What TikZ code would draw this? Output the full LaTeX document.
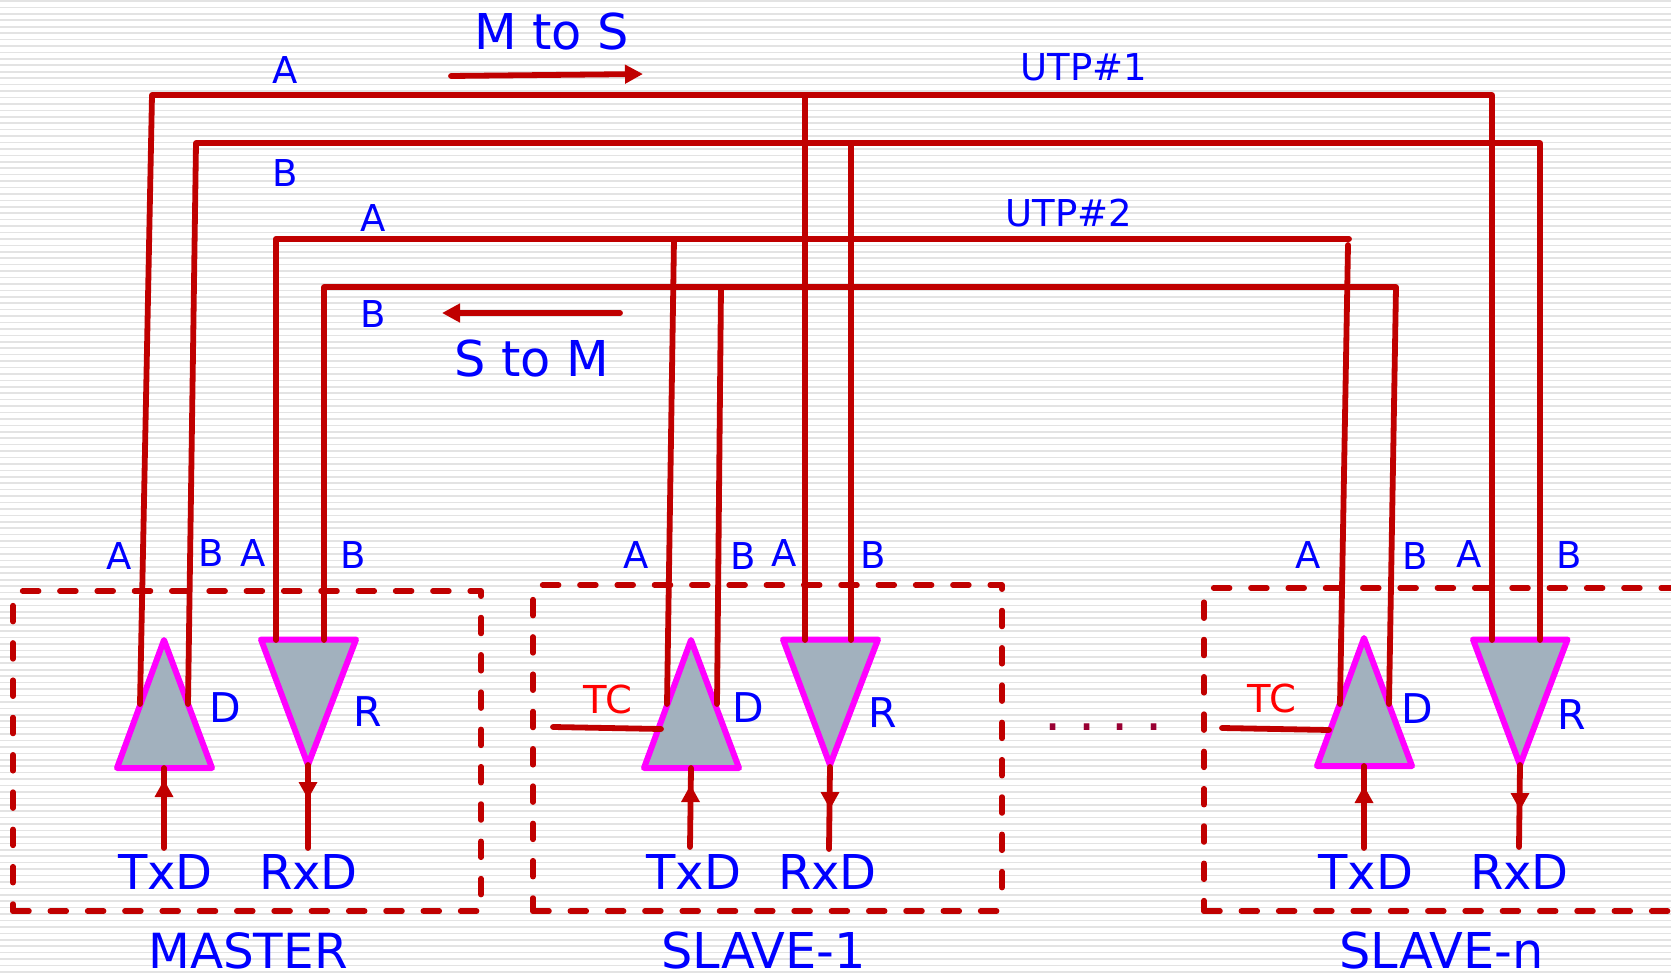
\documentclass[tikz,border=0pt]{standalone}
\usepackage{fontspec}
\setmainfont{DejaVu Sans}
\definecolor{wire}{HTML}{C00000}
\definecolor{lab}{HTML}{0000FF}
\definecolor{mag}{HTML}{FF00FF}
\definecolor{tri}{HTML}{A2B1BE}
\definecolor{stripe}{HTML}{E3E3E3}
\definecolor{dotc}{HTML}{990033}
\usetikzlibrary{arrows.meta}
\tikzset{
  wireline/.style={draw=wire,line width=5.8pt,line cap=round,line join=round},
  dashbox/.style={draw=wire,line width=5.5pt,line cap=round,line join=round,dash pattern=on 16pt off 21.3pt},
  gate/.style={draw=mag,fill=tri,line width=6pt,line join=round},
  sigarrow/.style={wireline,-{Triangle[length=18pt,width=18pt]}},
  headfill/.style={fill=wire,draw=none},
  txt/.style={text=lab,inner sep=0pt,font=\fontsize{37}{40}\selectfont},
  gatelab/.style={text=lab,inner sep=0pt,font=\fontsize{41}{44}\selectfont},
  sig/.style={text=lab,inner sep=0pt,font=\fontsize{48}{52}\selectfont},
  big/.style={text=lab,inner sep=0pt,font=\fontsize{49.4}{54}\selectfont},
  mastertxt/.style={text=lab,inner sep=0pt,font=\fontsize{48.4}{54}\selectfont},
  tclab/.style={text=red,inner sep=0pt,font=\fontsize{38.5}{40}\selectfont},
  dotlab/.style={text=dotc,inner sep=0pt,font=\fontsize{54}{58}\selectfont}
}
\begin{document}
\begin{tikzpicture}[x=1pt,y=-1pt]
\useasboundingbox (0,0) rectangle (1671,973);
\clip (0,0) rectangle (1671,973);
\fill[white] (0,0) rectangle (1671,973);
\foreach \i in {0,...,152} \draw[stripe,line width=1.6pt] (0,{1+6.43*\i}) -- (1671,{1+6.43*\i});

% coordinates
\coordinate (mAd) at (140,704); \coordinate (mBd) at (188,704);
\coordinate (mAr) at (276,640); \coordinate (mBr) at (324,640);
\coordinate (a1c1) at (152,95); \coordinate (a1j) at (805,95); \coordinate (a1c2) at (1492,95);
\coordinate (b1c1) at (196,143); \coordinate (b1j) at (851,143); \coordinate (b1c2) at (1540,143);
\coordinate (a2c1) at (276,239); \coordinate (a2j) at (674,239); \coordinate (a2c2) at (1349,239);
\coordinate (b2c1) at (324,287); \coordinate (b2j) at (721,287); \coordinate (b2c2) at (1396,287);
\coordinate (a2s) at (1348,245);
\coordinate (s1Ad) at (667,704); \coordinate (s1Bd) at (717,704);
\coordinate (s1Ar) at (805,640); \coordinate (s1Br) at (851,640);
\coordinate (snAd) at (1340,704); \coordinate (snBd) at (1389,704);
\coordinate (snAr) at (1492,640); \coordinate (snBr) at (1540,640);

% dashed boxes
\draw[dashbox] (22.6,591) -- (481,591) -- (481,895);
\draw[dashbox] (13,605.6) -- (13,911);
\draw[dashbox] (13,911) -- (478,911);
\draw[dashbox] (542.6,585) -- (1002,585) -- (1002,895);
\draw[dashbox] (533,599.6) -- (533,911);
\draw[dashbox] (533,911) -- (998,911);
\draw[dashbox] (1213.6,588) -- (1690,588);
\draw[dashbox] (1204,602.2) -- (1204,911);
\draw[dashbox] (1204,911) -- (1690,911);

% gates
\coordinate (mDa) at (164,640); \coordinate (mDl) at (117,768); \coordinate (mDr) at (212,768);
\coordinate (mRl) at (261,639.5); \coordinate (mRr) at (356,639.5); \coordinate (mRa) at (308,765);
\coordinate (sDa) at (691,640); \coordinate (sDl) at (644,768); \coordinate (sDr) at (739,768);
\coordinate (sRl) at (783,639.5); \coordinate (sRr) at (878,639.5); \coordinate (sRa) at (830,765);
\coordinate (nDa) at (1364,638); \coordinate (nDl) at (1317,766); \coordinate (nDr) at (1412,766);
\coordinate (nRl) at (1473,639.5); \coordinate (nRr) at (1567.5,639.5); \coordinate (nRa) at (1520,765);
\draw[gate] (mDa) -- (mDl) -- (mDr) -- cycle;
\draw[gate] (mRl) -- (mRr) -- (mRa) -- cycle;
\draw[gate] (sDa) -- (sDl) -- (sDr) -- cycle;
\draw[gate] (sRl) -- (sRr) -- (sRa) -- cycle;
\draw[gate] (nDa) -- (nDl) -- (nDr) -- cycle;
\draw[gate] (nRl) -- (nRr) -- (nRa) -- cycle;

% wires
\draw[wireline] (mAd) -- (a1c1) -- (a1c2) -- (snAr);
\draw[wireline] (a1j) -- (s1Ar);
\draw[wireline] (mBd) -- (b1c1) -- (b1c2) -- (snBr);
\draw[wireline] (b1j) -- (s1Br);
\draw[wireline] (mAr) -- (a2c1) -- (a2c2);
\draw[wireline] (a2s) -- (snAd);
\draw[wireline] (a2j) -- (s1Ad);
\draw[wireline] (mBr) -- (b2c1) -- (b2c2) -- (snBd);
\draw[wireline] (b2j) -- (s1Bd);

% TxD / RxD connectors with arrowhead part way
\coordinate (mT) at (164,848); \coordinate (mTe) at (164,768);
\coordinate (mRx) at (308,848); \coordinate (mRe) at (308,765);
\coordinate (sT) at (690,847); \coordinate (sTe) at (691,768);
\coordinate (sRx) at (829,849); \coordinate (sRe) at (830,767);
\coordinate (nT) at (1364,848); \coordinate (nTe) at (1364,766);
\coordinate (nRx) at (1519,847); \coordinate (nRe) at (1520,765);
\draw[wireline] (mT) -- (mTe);
\draw[wireline] (mRx) -- (mRe);
\draw[wireline] (sT) -- (sTe);
\draw[wireline] (sRx) -- (sRe);
\draw[wireline] (nT) -- (nTe);
\draw[wireline] (nRx) -- (nRe);
\fill[headfill] (164,780) -- (154.5,797) -- (173.5,797) -- cycle;
\fill[headfill] (298.5,782) -- (317.5,782) -- (308,799) -- cycle;
\fill[headfill] (690.5,785) -- (681,802) -- (700,802) -- cycle;
\fill[headfill] (820.5,792) -- (839.5,792) -- (830,809) -- cycle;
\fill[headfill] (1364,786) -- (1354.5,803) -- (1373.5,803) -- cycle;
\fill[headfill] (1510.5,793) -- (1529.5,793) -- (1520,810) -- cycle;

% TC
\coordinate (tc1s) at (553,727); \coordinate (tc1e) at (661,729);
\coordinate (tcns) at (1222,728); \coordinate (tcne) at (1329,730);
\draw[wireline] (tc1s) -- (tc1e);
\draw[wireline] (tcns) -- (tcne);

% direction arrows
\coordinate (ms1) at (451,76); \coordinate (ms2) at (643,74);
\coordinate (sm1) at (620,313); \coordinate (sm2) at (442,313);
\draw[sigarrow] (ms1) -- (ms2);
\draw[sigarrow] (sm1) -- (sm2);

% labels
\node[big] (lms) at (551.5,32) {M to S};
\node[big] (lsm) at (532,359) {S to M};
\node[txt] (la1) at (285,70) {A};
\node[txt] (lu1) at (1084,67) {UTP\#1};
\node[txt] (lb1) at (285,173) {B};
\node[txt] (la2) at (373,218) {A};
\node[txt] (lu2) at (1069,213) {UTP\#2};
\node[txt] (lb2) at (373,314) {B};
\node[txt] (m1) at (119.5,556) {A};
\node[txt] (m2) at (211,553) {B};
\node[txt] (m3) at (253,553) {A};
\node[txt] (m4) at (353.5,555) {B};
\node[gatelab] (mD) at (225,708) {D};
\node[gatelab] (mR) at (368,712) {R};
\node[sig] (mTx) at (165.5,872) {TxD};
\node[sig] (mRxl) at (308.5,872) {RxD};
\node[mastertxt] (mN) at (248,951) {MASTER};
\node[txt] (s1) at (636.5,555) {A};
\node[txt] (s2) at (743,556) {B};
\node[txt] (s3) at (784.5,553) {A};
\node[txt] (s4) at (873.5,555) {B};
\node[gatelab] (sD) at (748,708) {D};
\node[gatelab] (sR) at (883,713) {R};
\node[tclab] (sTC) at (608,699) {TC};
\node[sig] (sTx) at (694,872) {TxD};
\node[sig] (sRxl) at (827.5,872) {RxD};
\node[big] (sN) at (763.5,951) {SLAVE-1};
\node[txt] (n1) at (1308,555) {A};
\node[txt] (n2) at (1415,556) {B};
\node[txt] (n3) at (1469,554) {A};
\node[txt] (n4) at (1569.5,555) {B};
\node[gatelab] (nD) at (1417,709) {D};
\node[gatelab] (nR) at (1572,715) {R};
\node[tclab] (nTC) at (1272,698) {TC};
\node[sig] (nTx) at (1366,872) {TxD};
\node[sig] (nRxl) at (1519.5,872) {RxD};
\node[big] (nN) at (1441.5,951) {SLAVE-n};
\node[dotlab] (dots) at (1103.5,727) {\spaceskip=10.7pt . . . .};
\end{tikzpicture}
\end{document}
